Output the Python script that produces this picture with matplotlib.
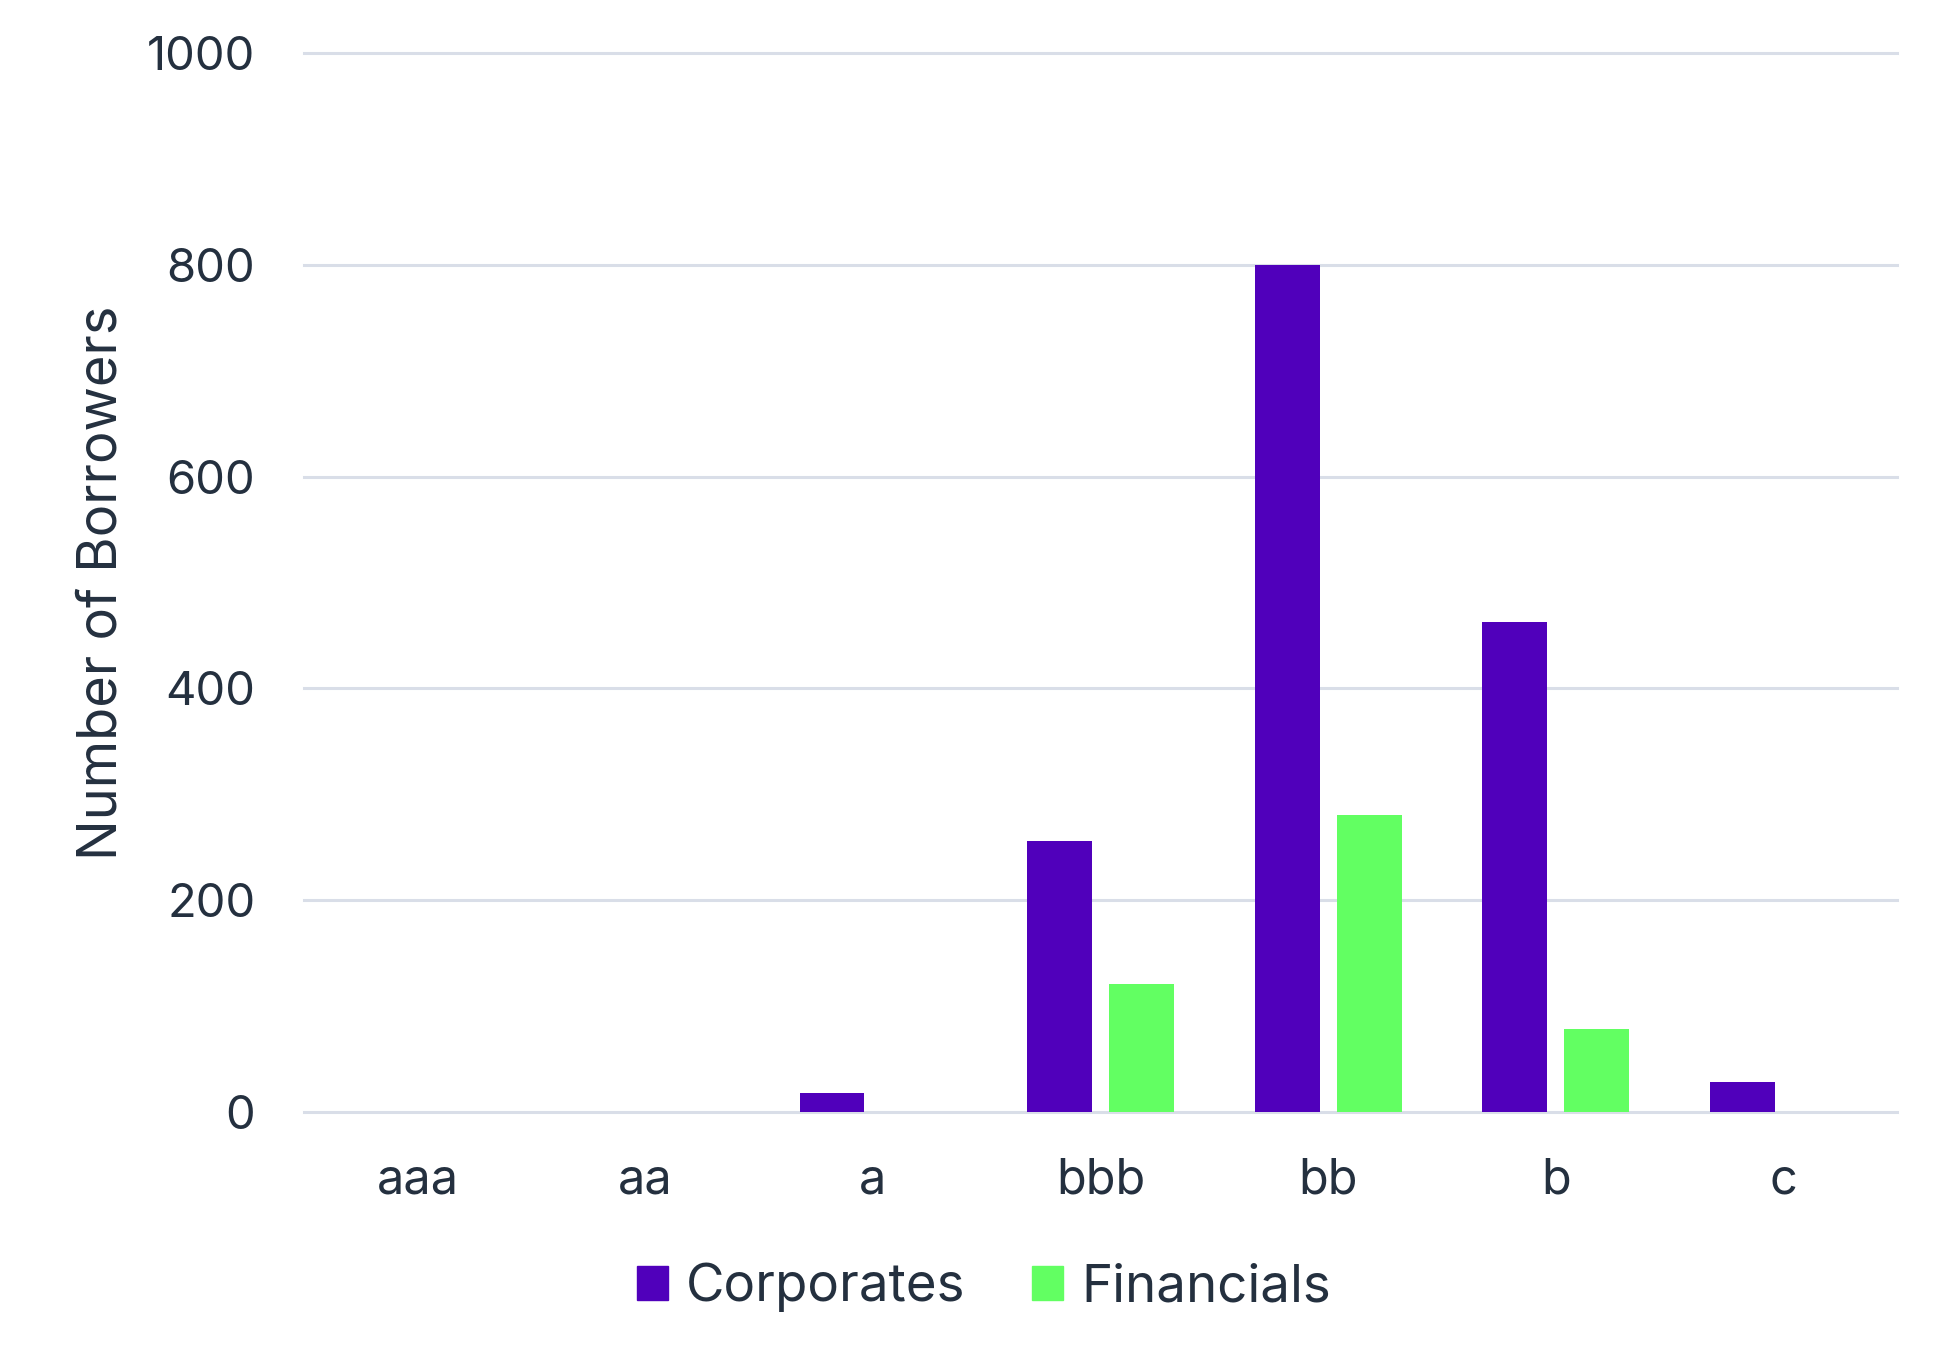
import matplotlib
matplotlib.use("Agg")
import matplotlib.pyplot as plt
import numpy as np
from matplotlib.patches import Patch

# data
ratings = ["aaa", "aa", "a", "bbb", "bb", "b", "c"]
corporates = [0, 0, 18, 256, 800, 463, 28]
financials = [0, 0, 0, 121, 280, 78, 0]
y_ticks = [0, 200, 400, 600, 800, 1000]

purple = "#5000BB"
green = "#62FF62"
ink = "#24303F"
grid_col = "#D9DEE8"

plt.rcParams["font.family"] = ["Inter", "DejaVu Sans"]

fig = plt.figure(figsize=(19.48, 13.64), dpi=100)
ax = fig.add_axes([0.156, 0.185, 0.974 - 0.156, 0.961 - 0.185])

x = np.arange(len(ratings))
w = 0.285
off = 0.18
ax.bar(x - off, corporates, width=w, color=purple, zorder=3)
ax.bar(x + off, financials, width=w, color=green, zorder=3)

ax.set_xlim(-0.5, len(ratings) - 0.5)
ax.set_ylim(0, 1000)
ax.set_yticks(y_ticks)
ax.set_xticks(x)
ax.set_xticklabels(ratings)

ax.set_axisbelow(True)
ax.grid(axis="y", color=grid_col, linewidth=2.2)
for ln in ax.get_ygridlines():
    ln.set_clip_on(False)
for s in ax.spines.values():
    s.set_visible(False)

ax.tick_params(axis="y", length=0, pad=35, labelsize=34, labelcolor=ink)
ax.tick_params(axis="x", length=0, pad=33, labelsize=35, labelcolor=ink)

ax.set_ylabel("Number of Borrowers", fontsize=39, color=ink)
ax.yaxis.set_label_coords(-0.111, 0.5)

handles = [Patch(color=purple, label="Corporates"), Patch(color=green, label="Financials")]
fig.legend(handles=handles, loc="center", bbox_to_anchor=(0.505, 0.056), ncol=2,
           frameon=False, fontsize=38, labelcolor=ink, handlelength=0.6,
           handleheight=0.6, handletextpad=0.34, columnspacing=1.25)

fig.savefig("out.png", dpi=100, facecolor="white")
